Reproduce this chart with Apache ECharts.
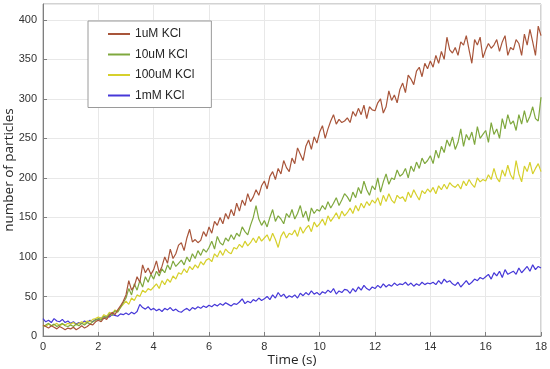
<!DOCTYPE html>
<html>
<head>
<meta charset="utf-8">
<script src="https://cdn.jsdelivr.net/npm/echarts@6/dist/echarts.min.js"></script>
<style>html,body{margin:0;padding:0;background:#fff}#c{width:550px;height:369px}</style>
</head>
<body>
<div id="c"></div>
<script>
// Sampling: one value every 0.1 s from 0 to 18 s
const timeStart = 0;
const timeStep = 0.1;

const seriesNames = ['1uM KCl', '10uM KCl', '100uM KCl', '1mM KCl'];
const xTicks = [0, 2, 4, 6, 8, 10, 12, 14, 16, 18];
const yTicks = [0, 50, 100, 150, 200, 250, 300, 350, 400];

const kcl1uM = [
  14, 12, 10, 13, 11, 9, 12, 10, 8, 10,
  9, 11, 8, 10, 13, 10, 12, 15, 14, 18,
  20, 18, 23, 21, 26, 30, 27, 33, 38, 44,
  52, 70, 58, 63, 75, 68, 90, 80, 86, 78,
  84, 95, 80, 88, 100, 92, 110, 98, 104, 115,
  118, 108, 124, 135, 119, 122, 118, 121, 132, 126,
  138, 130, 145, 140, 150, 142, 155, 148, 160, 152,
  168, 158, 172, 165, 180, 170, 176, 185, 178, 190,
  196, 186, 202, 208, 198, 212, 205, 222, 213, 208,
  225, 218, 238, 230, 222, 240, 248, 236, 252, 244,
  258, 266, 250, 262, 272, 280, 268, 274, 270, 272,
  276, 270, 284, 278, 288, 280, 292, 275, 290, 286,
  285, 295, 300, 282, 290, 310, 298, 305, 295, 312,
  320, 308, 330, 325, 318, 335, 340, 328, 345, 338,
  348, 340, 355, 345, 360, 350, 378, 362, 358, 365,
  355, 372, 368, 380, 362, 345, 375, 368, 378, 352,
  362, 370, 364, 368, 375, 360, 372, 380, 355, 365,
  362, 375, 370, 355, 382, 368, 388, 372, 355, 392,
  380
];
const kcl10uM = [
  12, 14, 16, 13, 15, 12, 14, 16, 13, 12,
  14, 12, 15, 13, 16, 14, 17, 15, 18, 20,
  22, 20, 25, 23, 28, 26, 32, 30, 36, 42,
  48, 60, 52, 66, 58, 70, 62, 75, 68, 78,
  72, 82, 76, 85, 80, 90, 84, 95, 88, 92,
  96, 90, 100, 94, 104, 98, 108, 102, 110, 106,
  112, 120, 110, 126, 118, 115, 124, 120, 128, 122,
  130, 126, 138, 132, 128, 140, 150, 165, 148, 140,
  146, 138, 150, 160, 145, 152, 148, 142, 155, 150,
  160, 148, 155, 165, 150, 158, 145, 162, 155, 160,
  158, 165, 160, 170, 162, 168, 175, 165, 172, 180,
  176, 170, 182, 175, 188, 180, 196, 185, 178, 190,
  185, 200, 182, 195, 205, 192, 200, 198, 210, 202,
  205, 212, 200, 215, 208, 220, 212, 225, 218, 222,
  228, 218, 235, 225, 240, 232, 248, 240, 252, 236,
  245, 262, 240, 255, 248, 258, 242, 265, 250, 255,
  260, 245, 270, 255, 262, 250, 275, 262, 280, 268,
  272, 260, 280, 268, 285, 270, 278, 290, 275, 272,
  302
];
const kcl100uM = [
  14, 12, 15, 13, 14, 16, 13, 15, 14, 16,
  15, 17, 14, 16, 18, 16, 19, 18, 21, 22,
  24, 22, 27, 25, 30, 28, 33, 31, 36, 40,
  44, 40, 48, 45, 52, 50, 58, 55, 60, 58,
  62, 66, 60, 70, 65, 72, 68, 76, 72, 80,
  78, 85, 80, 88, 84, 90, 86, 94, 90, 96,
  98, 94, 104, 100, 108, 102, 110, 106, 104, 112,
  110, 116, 112, 120, 114, 118, 124, 118, 126, 120,
  124, 128, 120, 130, 122, 112, 126, 132, 124, 130,
  128, 134, 126, 138, 130, 136, 140, 132, 144, 138,
  142, 148, 140, 152, 145, 150, 156, 148, 158, 152,
  156, 162, 155, 165, 158, 168, 162, 170, 165, 172,
  168, 175, 165, 178, 170, 180, 172, 168, 178, 174,
  176, 170, 182, 175, 185, 178, 172, 184, 180, 186,
  182, 188, 180, 190, 185, 192, 186, 194, 190, 188,
  192, 186, 196, 190, 198, 192, 188, 200, 195, 198,
  196, 204, 198, 212, 200, 195, 210, 202, 216, 204,
  198, 222, 205, 195, 215, 208, 220, 205, 212, 218,
  208
];
const kcl1mM = [
  22, 18, 20, 17, 22, 19, 18, 21, 17, 19,
  16, 18, 15, 17, 16, 19, 17, 20, 18, 21,
  20, 23, 22, 25, 24, 27, 26, 25, 28, 27,
  29, 27, 30, 28, 31, 40, 36, 34, 37, 33,
  35, 32, 34, 31, 35, 33, 36, 32, 34, 31,
  30, 33, 35, 32, 36, 34, 37, 35, 38, 36,
  39, 37, 40, 38, 41, 39, 42, 40, 38, 41,
  40, 43, 47, 41, 44, 42, 46, 44, 48, 45,
  47, 50, 46, 52, 48, 55, 50, 53, 48, 51,
  49, 52, 48, 54, 51, 55, 52, 57, 53, 55,
  52, 56, 54, 58, 55, 60, 53, 57, 55, 59,
  58, 54, 60, 56, 62, 58, 64, 60, 58, 62,
  60, 64, 61, 66, 62, 65, 63, 67, 64, 66,
  65, 68, 64, 67, 63, 66, 64, 68, 65, 67,
  66, 68, 65, 70, 66, 72, 68, 70, 66, 64,
  68, 62, 66, 70, 65, 68, 72, 70, 74, 72,
  75, 78, 72, 80, 76, 82, 74, 84, 78, 80,
  82, 78, 86, 80, 84, 88, 82, 90, 84, 88,
  86
];

const colors = ['#a8553a', '#7fa83e', '#d6d02c', '#4638d8'];
const allValues = [kcl1uM, kcl10uM, kcl100uM, kcl1mM];

function pairs(vals) {
  return vals.map((v, i) => [+(timeStart + i * timeStep).toFixed(2), v]);
}

const chart = echarts.init(document.getElementById('c'), null, {renderer: 'canvas'});
const axisFont = 'Liberation Sans, Arial, sans-serif';
chart.setOption({
  animation: false,
  backgroundColor: '#ffffff',
  grid: {left: 43, right: 9, top: 4, bottom: 33, show: true, borderColor: '#a6a6a6', borderWidth: 1,
    containLabel: false, outerBoundsMode: 'none'},
  legend: {
    data: seriesNames,
    orient: 'vertical',
    left: 88, top: 21,
    padding: [7, 17, 6, 20],
    itemGap: 8.5,
    itemWidth: 22, itemHeight: 2,
    icon: 'rect',
    backgroundColor: '#ffffff',
    borderColor: '#9a9a9a', borderWidth: 1, borderRadius: 0,
    textStyle: {fontFamily: axisFont, fontSize: 12, color: '#262626'}
  },
  xAxis: {
    type: 'value', min: xTicks[0], max: xTicks[xTicks.length - 1], interval: 2,
    name: 'Time (s)', nameLocation: 'middle', nameGap: 17, nameMoveOverlap: false,
    nameTextStyle: {fontFamily: 'Open Sans, sans-serif', fontSize: 13.5, color: '#262626'},
    axisLine: {show: true, lineStyle: {color: '#7f7f7f'}},
    axisTick: {show: true, inside: true, length: 4, lineStyle: {color: '#7f7f7f'}},
    axisLabel: {fontFamily: axisFont, fontSize: 11, color: '#333333', margin: 5},
    splitLine: {show: true, lineStyle: {color: '#e8e8e8'}}
  },
  yAxis: {
    type: 'value', min: 0, max: 420, interval: 50,
    name: 'number of particles', nameLocation: 'middle', nameGap: 27, nameRotate: 90, nameMoveOverlap: false,
    nameTextStyle: {fontFamily: 'Open Sans, sans-serif', fontSize: 13.5, color: '#262626'},
    axisLine: {show: true, lineStyle: {color: '#7f7f7f'}},
    axisTick: {show: true, inside: true, length: 4, lineStyle: {color: '#7f7f7f'}},
    axisLabel: {fontFamily: axisFont, fontSize: 11, color: '#333333', margin: 6, showMaxLabel: false,
      formatter: v => (yTicks.indexOf(v) >= 0 ? String(v) : '')},
    splitLine: {show: true, lineStyle: {color: '#e8e8e8'}}
  },
  series: seriesNames.map((name, k) => ({
    name: name,
    type: 'line',
    data: pairs(allValues[k]),
    showSymbol: false,
    symbol: 'none',
    color: colors[k],
    lineStyle: {width: 1.2, color: colors[k]},
    z: 10 - k
  }))
});
</script>
</body>
</html>
